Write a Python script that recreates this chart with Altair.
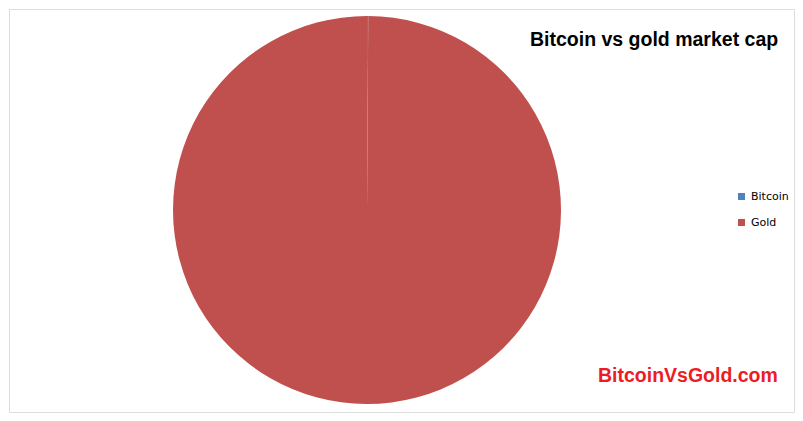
import altair as alt
import pandas as pd

categories = ["Bitcoin", "Gold"]
market_cap_bn = [8, 7800]
colors = ["#4F81BD", "#C0504D"]
title_text = "Bitcoin vs gold market cap"
watermark_text = "BitcoinVsGold.com"

df = pd.DataFrame({"asset": categories, "cap": market_cap_bn, "order": [0, 1]})

pie = alt.Chart(df).mark_arc(outerRadius=194, strokeWidth=0).encode(
    theta=alt.Theta("cap:Q", stack=True),
    color=alt.Color(
        "asset:N",
        scale=alt.Scale(domain=categories, range=colors),
        legend=alt.Legend(
            title=None, orient="none", legendX=727, legendY=182,
            symbolType="square", symbolSize=49, symbolStrokeWidth=0,
            labelFont="DejaVu Sans", labelFontSize=11, labelColor="#000000",
            rowPadding=14, labelOffset=4,
        ),
    ),
    order=alt.Order("order:Q"),
    x=alt.value(358),
    y=alt.value(201),
)

title = alt.Chart(pd.DataFrame({"t": [title_text]})).mark_text(
    align="left", baseline="alphabetic", font="Liberation Sans",
    fontWeight="bold", fontSize=19.5, color="#000000",
).encode(text="t:N", x=alt.value(521), y=alt.value(37))

wm = alt.Chart(pd.DataFrame({"t": [watermark_text]})).mark_text(
    align="left", baseline="alphabetic", font="Liberation Sans",
    fontWeight="bold", fontSize=19.5, color="#ED1C24",
).encode(text="t:N", x=alt.value(589), y=alt.value(373))

chart = alt.layer(pie, title, wm).properties(
    width=785, height=403, autosize=alt.AutoSizeParams(type="none"), padding=1,
).configure_view(stroke="#6A6A6A", strokeWidth=1).configure(background="#FFFFFF")

chart.save("out.html", embed_options={"renderer": "svg", "actions": False})
